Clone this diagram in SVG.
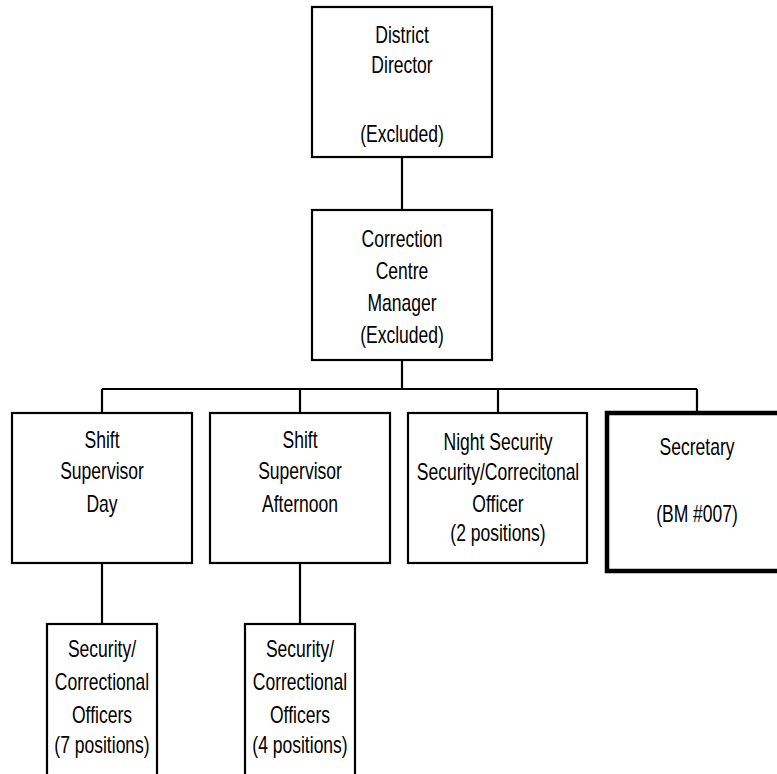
<svg xmlns="http://www.w3.org/2000/svg" width="777" height="774" viewBox="0 0 777 774">
<style>
.box{fill:#fff;stroke:#000;stroke-width:2.2}
.thick{fill:#fff;stroke:#000;stroke-width:4.5}
.conn{fill:none;stroke:#000;stroke-width:2.2}
text{font-family:"Liberation Sans",Arial,sans-serif;font-size:24px;text-anchor:middle;fill:#000}
</style>
<rect width="777" height="774" fill="#fff"/>
<g id="connectors">
<path class="conn" d="M402 157V210M402 360V389M102 389H697M102 389V413M300 389V413M498 389V413M697 389V413M102 563V624M300 563V624"/>
</g>
<g id="district-director">
<rect class="box" x="312" y="7" width="180" height="150"/>
<text transform="matrix(0.73 0 0 1 402 43)">District</text>
<text transform="matrix(0.73 0 0 1 402 73)">Director</text>
<text transform="matrix(0.73 0 0 1 402 142)">(Excluded)</text>
</g>
<g id="centre-manager">
<rect class="box" x="312" y="210" width="180" height="150"/>
<text transform="matrix(0.73 0 0 1 402 247)">Correction</text>
<text transform="matrix(0.73 0 0 1 402 279)">Centre</text>
<text transform="matrix(0.73 0 0 1 402 311)">Manager</text>
<text transform="matrix(0.73 0 0 1 402 343)">(Excluded)</text>
</g>
<g id="shift-day">
<rect class="box" x="12" y="413" width="180" height="150"/>
<text transform="matrix(0.73 0 0 1 102 448)">Shift</text>
<text transform="matrix(0.73 0 0 1 102 479)">Supervisor</text>
<text transform="matrix(0.73 0 0 1 102 512)">Day</text>
</g>
<g id="shift-afternoon">
<rect class="box" x="210" y="413" width="180" height="150"/>
<text transform="matrix(0.73 0 0 1 300 448)">Shift</text>
<text transform="matrix(0.73 0 0 1 300 479)">Supervisor</text>
<text transform="matrix(0.73 0 0 1 300 512)">Afternoon</text>
</g>
<g id="night-security">
<rect class="box" x="408" y="413" width="179" height="150"/>
<text transform="matrix(0.73 0 0 1 498 450)">Night Security</text>
<text transform="matrix(0.73 0 0 1 498 480)">Security/Correcitonal</text>
<text transform="matrix(0.73 0 0 1 498 512)">Officer</text>
<text transform="matrix(0.73 0 0 1 498 541)">(2 positions)</text>
</g>
<g id="secretary">
<rect class="thick" x="607" y="413" width="180" height="158"/>
<text transform="matrix(0.73 0 0 1 697 455)">Secretary</text>
<text transform="matrix(0.73 0 0 1 697 522)">(BM #007)</text>
</g>
<g id="officers-day">
<rect class="box" x="47" y="624" width="110" height="170"/>
<text transform="matrix(0.73 0 0 1 102 657)">Security/</text>
<text transform="matrix(0.73 0 0 1 102 690)">Correctional</text>
<text transform="matrix(0.73 0 0 1 102 723)">Officers</text>
<text transform="matrix(0.73 0 0 1 102 753)">(7 positions)</text>
</g>
<g id="officers-afternoon">
<rect class="box" x="245" y="624" width="110" height="170"/>
<text transform="matrix(0.73 0 0 1 300 657)">Security/</text>
<text transform="matrix(0.73 0 0 1 300 690)">Correctional</text>
<text transform="matrix(0.73 0 0 1 300 723)">Officers</text>
<text transform="matrix(0.73 0 0 1 300 753)">(4 positions)</text>
</g>
</svg>
